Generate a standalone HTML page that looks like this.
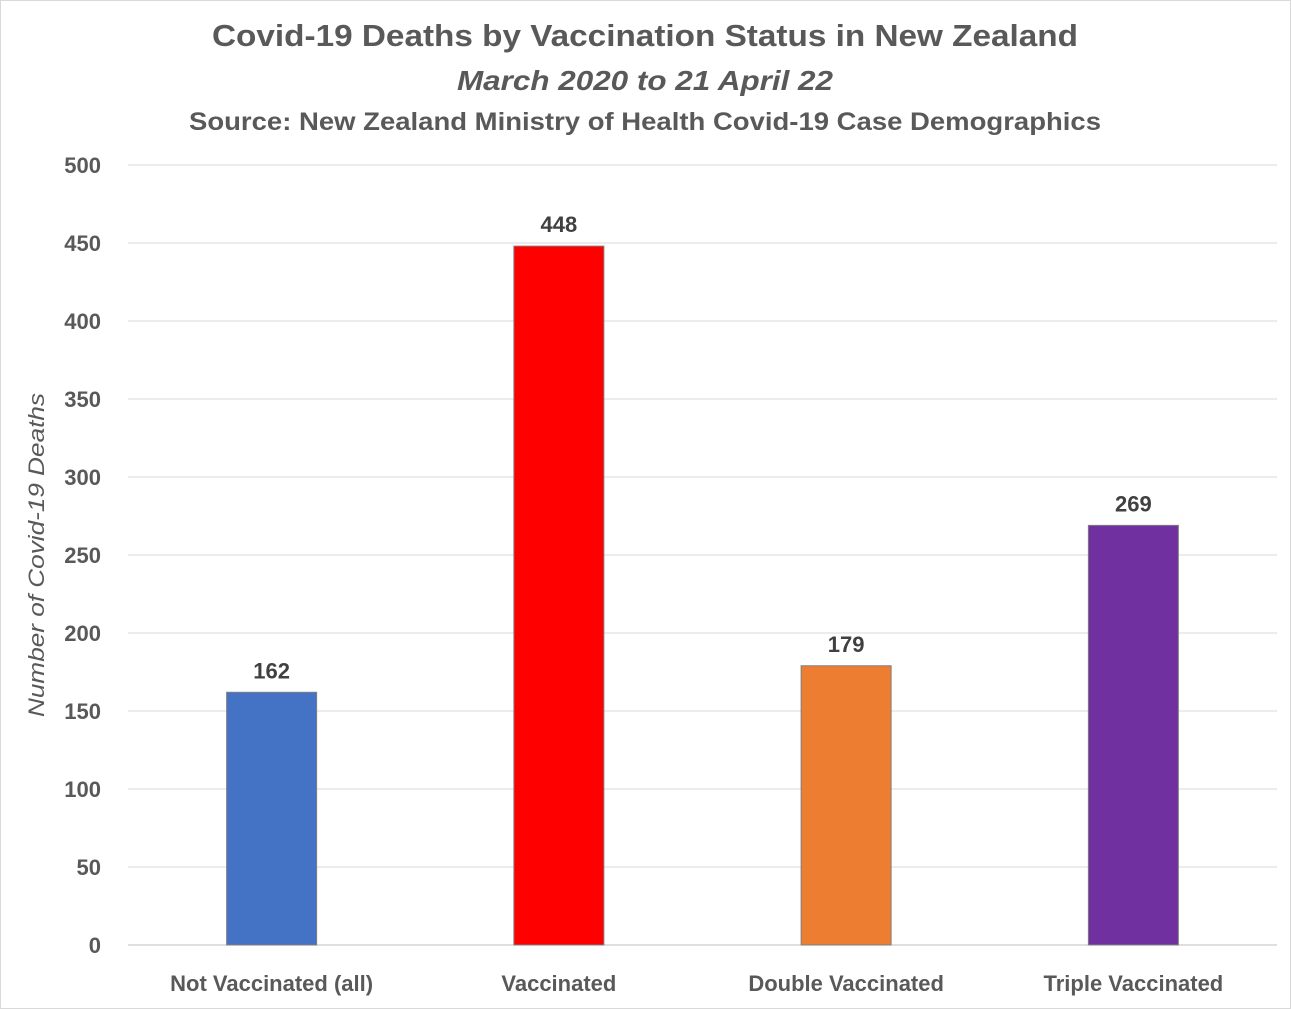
<!DOCTYPE html>
<html><head><meta charset="utf-8"><style>
html,body{margin:0;padding:0;background:#fff;}
svg{display:block;font-family:"Liberation Sans",sans-serif;}
</style></head><body>
<svg id="chart" width="1291" height="1009" viewBox="0 0 1291 1009">
<rect x="0.5" y="0.5" width="1290" height="1008" fill="#fff" stroke="#d9d9d9"/>
<text x="645" y="46" text-anchor="middle" font-size="31" font-weight="bold" fill="#595959" textLength="866" lengthAdjust="spacingAndGlyphs">Covid-19 Deaths by Vaccination Status in New Zealand</text>
<text x="645" y="90" text-anchor="middle" font-size="28" font-style="italic" font-weight="bold" fill="#595959" textLength="376" lengthAdjust="spacingAndGlyphs">March 2020 to 21 April 22</text>
<text x="645" y="130" text-anchor="middle" font-size="25" font-weight="bold" fill="#595959" textLength="912" lengthAdjust="spacingAndGlyphs">Source: New Zealand Ministry of Health Covid-19 Case Demographics</text>
<g id="grid"></g>
<g id="bars"></g>
<text transform="translate(44,555) rotate(-90)" text-anchor="middle" font-size="22" font-style="italic" fill="#595959" textLength="324" lengthAdjust="spacingAndGlyphs">Number of Covid-19 Deaths</text>
</svg>
<script>
const categories = ["Not Vaccinated (all)", "Vaccinated", "Double Vaccinated", "Triple Vaccinated"];
const deaths = [162, 448, 179, 269];
const barColors = ["#4472c4", "#ff0000", "#ed7d31", "#7030a0"];
const yTicks = [0, 50, 100, 150, 200, 250, 300, 350, 400, 450, 500];

const NS = "http://www.w3.org/2000/svg";
const plotL = 128, plotR = 1277, y0 = 945, yTop = 165, yMax = 500;
const yScale = v => y0 - (v / yMax) * (y0 - yTop);
const band = (plotR - plotL) / categories.length;
const xCenter = i => plotL + band * (i + 0.5);
const barW = 90;

function mk(tag, attrs, parent, text) {
  const el = document.createElementNS(NS, tag);
  for (const k in attrs) el.setAttribute(k, attrs[k]);
  if (text !== undefined) el.textContent = text;
  parent.appendChild(el);
  return el;
}
const grid = document.getElementById("grid");
const bars = document.getElementById("bars");

yTicks.forEach(t => {
  const y = yScale(t);
  const ln = mk("line", {x1: plotL, x2: plotR, y1: y, y2: y, stroke: t === 0 ? "#bfbfbf" : "#d9d9d9", "stroke-width": 1}, grid);
  
  
  const tx = mk("text", {x: 101, y: y + 8, "text-anchor": "end", "font-size": 22, "font-weight": "bold", fill: "#595959"}, grid, String(t));
  
  
});

categories.forEach((c, i) => {
  const cx = xCenter(i), v = deaths[i], y = yScale(v);
  const r = mk("rect", {x: cx - barW / 2, y: y, width: barW, height: y0 - y, fill: barColors[i], stroke: "#7f7f7f", "stroke-width": 1}, bars);
  
  
  const lbl = mk("text", {x: cx, y: y - 14, "text-anchor": "middle", "font-size": 22, "font-weight": "bold", fill: "#404040"}, bars, String(v));
  
  
  const cl = mk("text", {x: cx, y: 991, "text-anchor": "middle", "font-size": 22, "font-weight": "bold", fill: "#595959"}, bars, c);
  
  
});
</script>
</body></html>
